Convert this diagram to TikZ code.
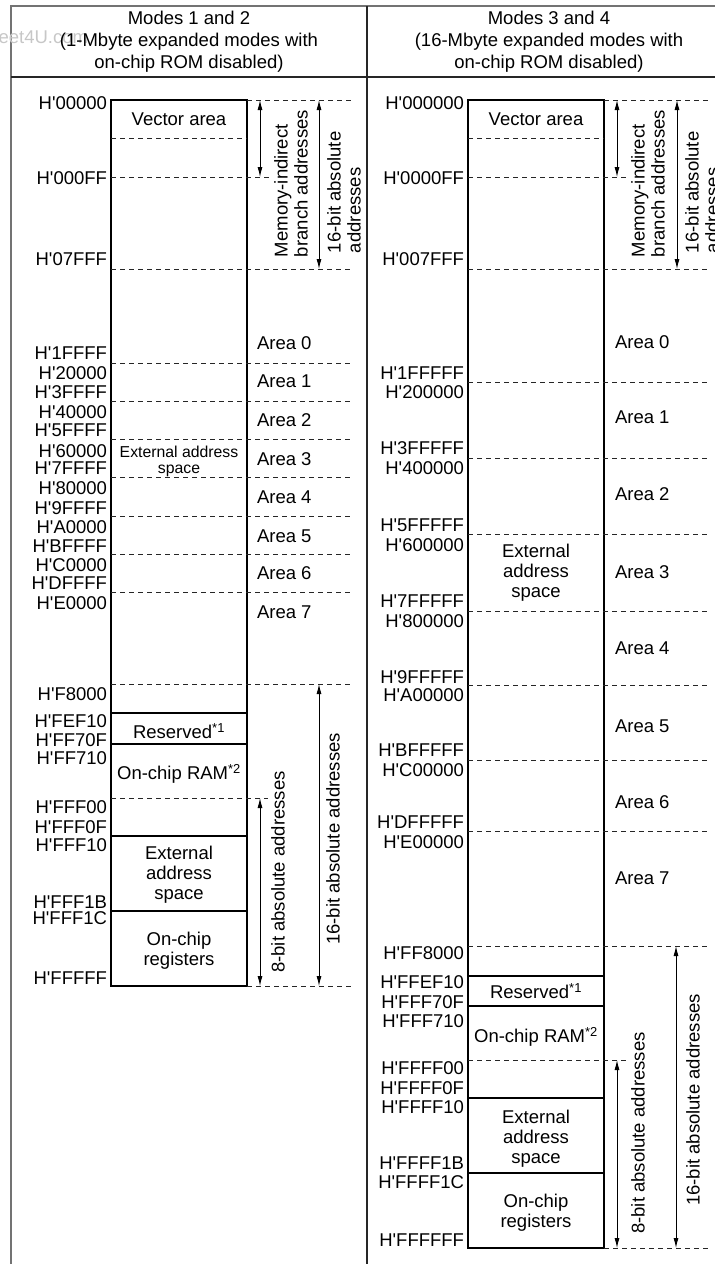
\documentclass[tikz,border=0pt]{standalone}
\usepackage{fontspec}
\setmainfont{Liberation Sans}
\usetikzlibrary{arrows.meta}
\newcommand\Hx{H\textquotesingle}
\begin{document}
\begin{tikzpicture}[x=1pt,y=-1pt,
  every node/.style={inner sep=0pt, outer sep=0pt, font=\fontsize{18.5}{20}\selectfont},
  addr/.style={anchor=east},
  arealbl/.style={anchor=west},
  boxtxt/.style={align=center},
  hdr/.style={align=center, font=\fontsize{18.5}{22}\selectfont},
  framel/.style={line width=1.6pt, draw=black!55},
  divl/.style={line width=1.3pt, draw=black!85},
  mem/.style={line width=1.2pt},
  dsh/.style={line width=0.9pt, draw=black!85, dash pattern=on 5pt off 4pt},
  dimarr/.style={line width=0.9pt, {Latex[length=10pt,width=5pt]}-{Latex[length=10pt,width=5pt]}},
  rottxt/.style={rotate=90, align=left, anchor=west},
  rotc/.style={rotate=90, anchor=center}]
\useasboundingbox (0,0) rectangle (715,1264);
% ---------- table frame ----------
\coordinate (TL) at (11,6);
\coordinate (TR) at (715,6);
\coordinate (BL) at (11,1264);
\coordinate (HL) at (11,77);
\coordinate (HR) at (715,77);
\coordinate (DT) at (367,6);
\coordinate (DB) at (367,1264);
\draw[framel] (TR) -- (TL) -- (BL);
\draw[divl] (HL) -- (HR);
\draw[divl] (DT) -- (DB);
\node[text=black!22, anchor=east] (wm) at (88,37) {eet4U.com};
\node[hdr] (hdrL) at (189,42) {Modes 1 and 2\\(1-Mbyte expanded modes with\\on-chip ROM disabled)};
\node[hdr] (hdrR) at (549,42) {Modes 3 and 4\\(16-Mbyte expanded modes with\\on-chip ROM disabled)};

% ================= LEFT COLUMN =================
\begin{scope}
\draw[mem] (111,100) rectangle (247,986);
\foreach \yy in {713,744,836,911} \draw[mem] (111,\yy) -- (247,\yy);
\draw[dsh] (111,138) -- (247,138);
\draw[dsh] (111,177) -- (270,177);
\draw[dsh] (111,269) -- (352,269);
\foreach \yy in {363,401,439,477,516,554,592,684} \draw[dsh] (111,\yy) -- (352,\yy);
\draw[dsh] (111,798) -- (268,798);
\draw[dsh] (247,100) -- (352,100);
\draw[dsh] (247,986) -- (352,986);
% arrows
\coordinate (LmiT) at (260,100); \coordinate (LmiB) at (260,177);
\coordinate (LsaT) at (319,100); \coordinate (LsaB) at (319,269);
\coordinate (LebT) at (260,798); \coordinate (LebB) at (260,986);
\coordinate (LsbT) at (319,684); \coordinate (LsbB) at (319,986);
\draw[dimarr] (LmiT) -- (LmiB);
\draw[dimarr] (LsaT) -- (LsaB);
\draw[dimarr] (LebT) -- (LebB);
\draw[dimarr] (LsbT) -- (LsbB);
\node[rottxt] (Lmi) at (291,257) {Memory-indirect\\branch addresses};
\node[rottxt] (Lsa) at (344,253) {16-bit absolute\\addresses};
\node[rotc] (Leb) at (278,872) {8-bit absolute addresses};
\node[rotc] (Lsb) at (333,839) {16-bit absolute addresses};
% box texts
\node[boxtxt] (Lvec) at (179,119) {Vector area};
\node[boxtxt, font=\fontsize{15.8}{16}\selectfont] (Lext) at (179,461) {External address\\space};
\node[boxtxt] (Lres) at (179,731) {Reserved\textsuperscript{*1}};
\node[boxtxt] (Lram) at (179,774) {On-chip RAM\textsuperscript{*2}};
\node[boxtxt] (Lext2) at (179,875) {External\\address\\space};
\node[boxtxt] (Lreg) at (179,951) {On-chip\\registers};
% areas
\node[arealbl] (LA0) at (257,343) {Area 0};
\node[arealbl] (LA1) at (257,381) {Area 1};
\node[arealbl] (LA2) at (257,420) {Area 2};
\node[arealbl] (LA3) at (257,459) {Area 3};
\node[arealbl] (LA4) at (257,497) {Area 4};
\node[arealbl] (LA5) at (257,536) {Area 5};
\node[arealbl] (LA6) at (257,573) {Area 6};
\node[arealbl] (LA7) at (257,612) {Area 7};
% addresses
\node[addr] (La1) at (107,103) {\Hx 00000};
\node[addr] (La2) at (107,178) {\Hx 000FF};
\node[addr] (La3) at (107,259) {\Hx 07FFF};
\node[addr] (La4) at (107,353) {\Hx 1FFFF};
\node[addr] (La5) at (107,373) {\Hx 20000};
\node[addr] (La6) at (107,392) {\Hx 3FFFF};
\node[addr] (La7) at (107,412) {\Hx 40000};
\node[addr] (La8) at (107,430) {\Hx 5FFFF};
\node[addr] (La9) at (107,451) {\Hx 60000};
\node[addr] (La10) at (107,468) {\Hx 7FFFF};
\node[addr] (La11) at (107,488) {\Hx 80000};
\node[addr] (La12) at (107,508) {\Hx 9FFFF};
\node[addr] (La13) at (107,527) {\Hx A0000};
\node[addr] (La14) at (107,546) {\Hx BFFFF};
\node[addr] (La15) at (107,565) {\Hx C0000};
\node[addr] (La16) at (107,583) {\Hx DFFFF};
\node[addr] (La17) at (107,603) {\Hx E0000};
\node[addr] (La18) at (107,694) {\Hx F8000};
\node[addr] (La19) at (107,721) {\Hx FEF10};
\node[addr] (La20) at (107,740) {\Hx FF70F};
\node[addr] (La21) at (107,758) {\Hx FF710};
\node[addr] (La22) at (107,807) {\Hx FFF00};
\node[addr] (La23) at (107,827) {\Hx FFF0F};
\node[addr] (La24) at (107,845) {\Hx FFF10};
\node[addr] (La25) at (107,902) {\Hx FFF1B};
\node[addr] (La26) at (107,918) {\Hx FFF1C};
\node[addr] (La27) at (107,978) {\Hx FFFFF};
\end{scope}

% ================= RIGHT COLUMN =================
\begin{scope}[xshift=357pt]
\draw[mem] (111,100) rectangle (247,1248);
\foreach \yy in {976,1006,1098,1173} \draw[mem] (111,\yy) -- (247,\yy);
\draw[dsh] (111,138) -- (247,138);
\draw[dsh] (111,177) -- (270,177);
\draw[dsh] (111,269) -- (352,269);
\foreach \yy in {382,458,534,611,685,760,831,946} \draw[dsh] (111,\yy) -- (352,\yy);
\draw[dsh] (111,1060) -- (270,1060);
\draw[dsh] (247,100) -- (352,100);
\draw[dsh] (247,1248) -- (352,1248);
% arrows
\coordinate (RmiT) at (260,100); \coordinate (RmiB) at (260,177);
\coordinate (RsaT) at (320,100); \coordinate (RsaB) at (320,269);
\coordinate (RebT) at (260,1060); \coordinate (RebB) at (260,1248);
\coordinate (RsbT) at (319,946); \coordinate (RsbB) at (319,1248);
\draw[dimarr] (RmiT) -- (RmiB);
\draw[dimarr] (RsaT) -- (RsaB);
\draw[dimarr] (RebT) -- (RebB);
\draw[dimarr] (RsbT) -- (RsbB);
\node[rottxt] (Rmi) at (291,257) {Memory-indirect\\branch addresses};
\node[rottxt] (Rsa) at (345,253) {16-bit absolute\\addresses};
\node[rotc] (Reb) at (281,1133) {8-bit absolute addresses};
\node[rotc] (Rsb) at (336,1100) {16-bit absolute addresses};
% box texts
\node[boxtxt] (Rvec) at (179,119) {Vector area};
\node[boxtxt] (Rext) at (179,573) {External\\address\\space};
\node[boxtxt] (Rres) at (179,991) {Reserved\textsuperscript{*1}};
\node[boxtxt] (Rram) at (179,1037) {On-chip RAM\textsuperscript{*2}};
\node[boxtxt] (Rext2) at (179,1139) {External\\address\\space};
\node[boxtxt] (Rreg) at (179,1213) {On-chip\\registers};
% areas
\node[arealbl] (RA0) at (258,342) {Area 0};
\node[arealbl] (RA1) at (258,417) {Area 1};
\node[arealbl] (RA2) at (258,494) {Area 2};
\node[arealbl] (RA3) at (258,572) {Area 3};
\node[arealbl] (RA4) at (258,648) {Area 4};
\node[arealbl] (RA5) at (258,726) {Area 5};
\node[arealbl] (RA6) at (258,802) {Area 6};
\node[arealbl] (RA7) at (258,878) {Area 7};
% addresses
\node[addr] (Ra1) at (107,103) {\Hx 000000};
\node[addr] (Ra2) at (107,178) {\Hx 0000FF};
\node[addr] (Ra3) at (107,259) {\Hx 007FFF};
\node[addr] (Ra4) at (107,373) {\Hx 1FFFFF};
\node[addr] (Ra5) at (107,392) {\Hx 200000};
\node[addr] (Ra6) at (107,448) {\Hx 3FFFFF};
\node[addr] (Ra7) at (107,468) {\Hx 400000};
\node[addr] (Ra8) at (107,525) {\Hx 5FFFFF};
\node[addr] (Ra9) at (107,545) {\Hx 600000};
\node[addr] (Ra10) at (107,601) {\Hx 7FFFFF};
\node[addr] (Ra11) at (107,621) {\Hx 800000};
\node[addr] (Ra12) at (107,677) {\Hx 9FFFFF};
\node[addr] (Ra13) at (107,695) {\Hx A00000};
\node[addr] (Ra14) at (107,750) {\Hx BFFFFF};
\node[addr] (Ra15) at (107,770) {\Hx C00000};
\node[addr] (Ra16) at (107,822) {\Hx DFFFFF};
\node[addr] (Ra17) at (107,842) {\Hx E00000};
\node[addr] (Ra18) at (107,953) {\Hx FF8000};
\node[addr] (Ra19) at (107,982) {\Hx FFEF10};
\node[addr] (Ra20) at (107,1002) {\Hx FFF70F};
\node[addr] (Ra21) at (107,1021) {\Hx FFF710};
\node[addr] (Ra22) at (107,1068) {\Hx FFFF00};
\node[addr] (Ra23) at (107,1088) {\Hx FFFF0F};
\node[addr] (Ra24) at (107,1107) {\Hx FFFF10};
\node[addr] (Ra25) at (107,1163) {\Hx FFFF1B};
\node[addr] (Ra26) at (107,1182) {\Hx FFFF1C};
\node[addr] (Ra27) at (107,1240) {\Hx FFFFFF};
\end{scope}
\end{tikzpicture}
\end{document}
